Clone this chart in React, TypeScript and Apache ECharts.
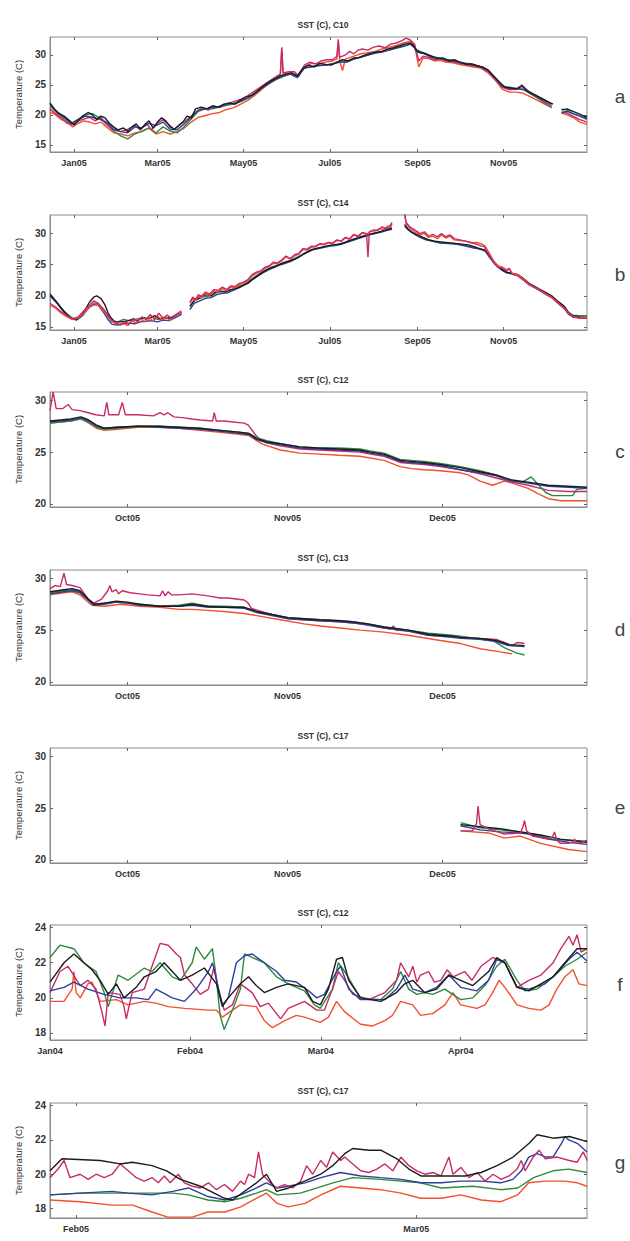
import React, { useEffect, useRef } from "react";
import * as echarts from "echarts";

const DAY = 86400000;
const MONTHS = ["Jan","Feb","Mar","Apr","May","Jun","Jul","Aug","Sep","Oct","Nov","Dec"];

// panel epochs (axis starts) and spans in days
const EPOCH_AB = Date.UTC(2004, 11, 15);
const EPOCH_CDE = Date.UTC(2005, 8, 16);
const EPOCH_F = Date.UTC(2004, 0, 1);
const EPOCH_G = Date.UTC(2005, 0, 29, 20, 40);
const SPAN_AB = 380;
const SPAN_CDE = 104;
const SPAN_F = 119;
const SPAN_G = 44.2;

const XTICKS_AB = ["2005-01-01", "2005-03-01", "2005-05-01", "2005-07-01", "2005-09-01", "2005-11-01"];
const XTICKS_CDE = ["2005-10-01", "2005-11-01", "2005-12-01"];
const XTICKS_F = ["2004-01-01", "2004-02-01", "2004-03-01", "2004-04-01"];
const XTICKS_G = ["2005-02-01", "2005-03-01"];
const YTICKS_AB = [15, 20, 25, 30];
const YTICKS_CDE = [20, 25, 30];
const YTICKS_FG = [18, 20, 22, 24];

const TITLES = ["SST (C), C10", "SST (C), C14", "SST (C), C12", "SST (C), C13", "SST (C), C17", "SST (C), C12", "SST (C), C17"];
const LETTERS = ["a", "b", "c", "d", "e", "f", "g"];

type P = [number, number | null];

// ---------- panel a (C10) : [day since 2004-12-15, degC]
const A_BLACK: P[] = [[0,22.0],[3,21.0],[6,20.3],[10,19.8],[14,19.0],[17,18.3],[20,19.0],[23,19.8],[27,20.4],[30,20.0],[33,19.2],[36,19.8],[39,19.5],[42,18.6],[45,18.0],[48,17.5],[52,17.8],[55,17.2],[58,18.0],[61,18.5],[64,17.6],[67,18.3],[70,19.0],[73,17.8],[76,18.8],[79,19.5],[82,19.0],[85,18.0],[88,17.6],[91,18.2],[94,18.8],[97,19.8],[100,19.5],[103,21.0],[107,21.3],[111,21.0],[115,21.5],[119,21.3],[123,21.8],[127,22.0],[131,21.8],[135,22.5],[139,23.0],[143,23.3],[147,24.0],[151,24.8],[155,25.5],[159,26.0],[163,26.5],[167,26.8],[171,27.0],[175,26.5],[179,27.8],[183,28.3],[187,28.0],[191,28.6],[195,28.4],[199,28.3],[203,28.8],[207,29.2],[211,29.0],[215,29.5],[219,29.6],[223,30.0],[227,30.3],[231,30.5],[235,30.6],[239,31.0],[243,31.2],[247,31.5],[251,31.8],[255,32.0],[257,31.6],[259,30.8],[262,30.4],[266,30.2],[270,29.8],[274,29.4],[278,29.5],[282,29.0],[286,29.2],[290,28.8],[294,28.5],[298,28.5],[302,28.2],[306,28.0],[310,27.5],[314,26.5],[318,25.5],[322,24.6],[326,24.5],[330,24.3],[334,24.8],[338,24.0],[342,23.5],[346,23.0],[350,22.5],[354,22.0],[356,21.8],[358,null],[362,20.8],[366,21.0],[370,20.6],[374,20.2],[378,19.8],[380,19.6]];
const A_BLUE: P[] = [[0,21.8],[5,20.5],[10,19.6],[15,18.6],[20,19.2],[25,19.8],[30,19.6],[35,19.3],[40,18.8],[45,17.6],[50,17.2],[55,17.0],[60,18.0],[65,17.8],[70,18.6],[75,18.2],[80,18.8],[85,17.6],[90,17.5],[95,18.5],[100,19.6],[105,20.8],[110,21.0],[115,21.2],[120,21.4],[125,21.8],[130,21.9],[135,22.3],[140,22.8],[145,23.6],[150,24.6],[155,25.3],[160,26.0],[165,26.5],[170,26.8],[175,26.2],[180,27.8],[185,28.0],[190,28.2],[195,28.3],[200,28.5],[205,28.8],[210,28.8],[215,29.3],[220,29.6],[225,30.0],[230,30.3],[235,30.5],[240,30.8],[245,31.2],[250,31.5],[255,31.8],[258,31.2],[260,30.5],[265,30.2],[270,29.6],[275,29.4],[280,29.2],[285,29.0],[290,28.8],[295,28.4],[300,28.4],[305,28.0],[310,27.4],[315,26.2],[320,24.8],[325,24.4],[330,24.4],[335,24.2],[340,23.6],[345,23.0],[350,22.4],[355,21.8],[358,null],[362,20.4],[366,20.6],[370,20.2],[375,19.8],[380,19.4]];
const A_GREEN: P[] = [[0,21.5],[5,20.3],[10,19.4],[15,18.5],[20,19.3],[25,20.0],[30,20.2],[35,19.5],[40,18.5],[45,17.3],[50,16.5],[55,16.0],[60,16.8],[65,17.3],[70,17.8],[75,17.0],[80,18.0],[85,17.3],[90,17.0],[95,18.0],[100,19.3],[105,20.6],[110,21.0],[115,21.0],[120,21.3],[125,21.6],[130,21.8],[135,22.2],[140,22.8],[145,23.5],[150,24.5],[155,25.2],[160,25.9],[165,26.4],[170,26.8],[175,26.4],[180,27.8],[185,28.1],[190,28.3],[195,28.3],[200,28.6],[205,28.8],[210,28.9],[215,29.3],[220,29.7],[225,30.0],[230,30.3],[235,30.6],[240,30.8],[245,31.1],[250,31.4],[255,31.8],[258,31.3],[260,30.8],[265,30.3],[270,29.8],[275,29.5],[280,29.3],[285,29.1],[290,28.8],[295,28.6],[300,28.4],[305,28.0],[310,27.4],[315,26.0],[320,24.8],[325,24.6],[330,24.4],[335,24.3],[340,23.5],[345,22.8],[350,22.0],[355,21.2],[358,null],[362,21.0],[366,20.8],[370,20.2],[375,19.8],[380,19.2]];
const A_RED: P[] = [[0,20.5],[4,20.0],[8,19.2],[12,18.8],[16,18.0],[20,18.6],[24,19.0],[28,18.8],[32,18.5],[36,18.8],[40,18.0],[45,17.0],[50,16.8],[55,16.5],[60,17.0],[65,17.2],[70,17.8],[75,16.8],[80,17.2],[85,16.8],[90,17.2],[95,17.8],[100,18.8],[105,19.6],[110,19.9],[115,20.2],[120,20.4],[125,20.9],[130,21.2],[135,21.8],[140,22.4],[145,23.3],[150,24.3],[155,25.2],[160,26.0],[163,26.6],[164,31.0],[165,26.8],[170,27.0],[175,26.6],[180,28.0],[185,28.6],[190,28.5],[195,28.8],[200,29.0],[203,29.3],[204,32.2],[205,29.0],[207,27.4],[209,29.3],[215,29.8],[220,30.2],[225,30.4],[230,30.6],[235,31.0],[240,31.3],[245,31.6],[250,32.0],[255,32.3],[258,31.5],[261,28.0],[264,29.5],[268,29.4],[272,29.0],[276,29.1],[280,28.8],[285,28.7],[290,28.4],[295,28.2],[300,28.0],[305,27.8],[310,27.0],[315,25.8],[320,24.3],[325,23.8],[330,23.8],[335,23.6],[340,23.0],[345,22.4],[350,21.8],[355,21.2],[358,null],[362,20.3],[366,20.0],[370,19.6],[375,18.8],[380,18.4]];
const A_MAGENTA: P[] = [[0,21.0],[4,20.2],[8,19.5],[12,18.6],[16,18.4],[20,19.0],[24,19.3],[28,19.6],[32,19.0],[36,19.6],[40,18.4],[45,17.5],[50,17.2],[55,17.6],[60,18.2],[64,17.5],[68,18.6],[72,17.5],[76,18.6],[80,19.2],[84,18.4],[88,17.6],[92,18.4],[96,19.0],[100,19.8],[104,20.6],[108,21.2],[112,20.8],[116,21.5],[120,21.2],[125,21.8],[130,22.2],[135,22.6],[140,23.2],[145,24.0],[150,24.8],[155,25.6],[160,26.4],[163,26.8],[164,31.3],[165,27.0],[169,27.2],[173,27.2],[176,26.4],[180,28.3],[184,28.8],[188,28.5],[192,29.0],[196,29.2],[200,29.2],[203,29.8],[204,32.6],[205,29.6],[209,30.0],[212,30.6],[215,30.2],[218,30.8],[221,31.0],[225,30.8],[229,31.3],[233,31.5],[237,31.2],[241,31.8],[245,32.0],[249,32.4],[252,32.8],[255,32.5],[258,31.8],[261,29.0],[264,29.8],[268,29.6],[272,29.2],[276,29.4],[280,29.0],[285,28.9],[290,28.6],[295,28.4],[300,28.2],[305,27.9],[310,27.2],[315,26.0],[320,24.6],[325,24.2],[330,24.3],[334,25.0],[338,24.0],[342,23.4],[346,22.8],[350,22.2],[355,21.5],[358,null],[362,20.4],[366,20.3],[370,19.8],[375,19.2],[380,18.8]];

// ---------- panel b (C14) : [day since 2004-12-15, degC]
const B_BLACK: P[] = [[0,20.3],[4,19.2],[8,18.0],[12,17.0],[16,16.3],[19,16.2],[22,16.8],[25,17.8],[28,19.0],[31,19.8],[33,20.0],[36,19.6],[39,18.5],[41,17.3],[43,16.5],[46,15.8],[50,15.8],[54,15.9],[58,16.2],[62,16.0],[66,16.5],[70,16.3],[74,16.8],[78,16.2],[82,16.5],[86,16.4],[90,17.0],[93,17.3],[96,null],[99,18.3],[102,19.2],[105,19.6],[108,20.0],[111,20.2],[114,20.0],[117,20.6],[120,20.8],[124,20.6],[128,21.0],[132,21.2],[136,21.6],[140,22.0],[144,22.8],[148,23.4],[152,24.0],[156,24.5],[160,24.8],[164,25.2],[168,25.5],[172,25.8],[176,26.2],[180,26.8],[184,27.3],[188,27.6],[192,27.8],[196,28.0],[200,28.2],[204,28.3],[208,28.5],[212,28.9],[216,29.2],[220,29.5],[224,29.7],[228,30.0],[232,30.2],[236,30.5],[240,30.8],[242,30.9],[246,null],[251,31.5],[253,30.8],[256,30.2],[260,29.8],[264,29.4],[268,29.0],[272,28.8],[280,28.6],[288,28.4],[296,28.2],[300,27.9],[304,27.6],[308,27.3],[311,26.5],[314,25.5],[317,24.8],[320,24.2],[323,23.8],[327,23.6],[331,23.4],[335,22.8],[339,22.0],[343,21.5],[347,21.0],[351,20.5],[355,20.0],[359,19.2],[364,18.3],[367,17.3],[370,16.8],[375,16.6],[380,16.5]];
const B_BLUE: P[] = [[0,20.0],[5,18.8],[10,17.3],[15,16.3],[19,16.1],[23,16.8],[27,18.0],[31,18.6],[34,18.5],[38,17.3],[41,16.2],[44,15.4],[48,15.3],[52,15.5],[56,15.6],[60,15.5],[64,15.8],[68,15.9],[72,16.0],[76,15.8],[80,16.1],[84,16.0],[88,16.4],[93,17.0],[96,null],[99,17.8],[102,18.8],[106,19.2],[110,19.6],[114,19.7],[118,20.2],[122,20.4],[126,20.5],[130,20.9],[134,21.3],[138,21.8],[142,22.4],[146,23.0],[150,23.6],[154,24.1],[158,24.5],[162,24.9],[166,25.2],[170,25.5],[174,26.0],[178,26.5],[182,27.0],[186,27.4],[190,27.6],[194,27.8],[198,28.0],[202,28.1],[206,28.3],[210,28.6],[214,28.9],[218,29.2],[222,29.5],[226,29.8],[230,30.0],[234,30.2],[238,30.5],[242,30.7],[246,null],[251,31.2],[254,30.5],[258,29.9],[262,29.4],[266,29.0],[270,28.8],[276,28.5],[282,28.4],[288,28.3],[294,28.0],[300,27.7],[304,27.5],[308,27.2],[311,26.2],[314,25.3],[317,24.6],[320,24.1],[323,23.7],[327,23.5],[331,23.3],[335,22.6],[339,21.8],[343,21.3],[347,20.8],[351,20.3],[355,19.8],[359,19.0],[364,18.0],[367,17.0],[370,16.6],[375,16.5],[380,16.4]];
const B_GREEN: P[] = [[0,20.0],[5,18.9],[10,17.5],[15,16.5],[19,16.3],[23,16.9],[27,18.0],[31,18.8],[34,18.8],[38,17.8],[41,16.8],[44,16.0],[48,15.8],[52,16.2],[56,16.0],[60,16.2],[64,16.4],[68,16.3],[72,16.6],[76,16.2],[80,16.5],[84,16.4],[88,16.8],[93,17.2],[96,null],[99,18.3],[102,19.2],[106,19.6],[110,19.9],[114,20.0],[118,20.5],[122,20.7],[126,20.8],[130,21.1],[134,21.5],[138,21.9],[142,22.6],[146,23.2],[150,23.8],[154,24.3],[158,24.7],[162,25.0],[166,25.4],[170,25.7],[174,26.1],[178,26.6],[182,27.1],[186,27.5],[190,27.7],[194,27.9],[198,28.1],[202,28.2],[206,28.4],[210,28.7],[214,29.0],[218,29.3],[222,29.6],[226,29.9],[230,30.1],[234,30.3],[238,30.6],[242,30.8],[246,null],[251,31.3],[254,30.6],[258,30.0],[262,29.5],[266,29.1],[270,28.9],[276,28.6],[282,28.5],[288,28.4],[294,28.1],[300,27.8],[304,27.6],[308,27.3],[311,26.4],[314,25.4],[317,24.7],[320,24.2],[323,23.8],[327,23.6],[331,23.4],[335,22.7],[339,21.9],[343,21.4],[347,20.9],[351,20.4],[355,19.9],[359,19.1],[364,18.2],[367,17.3],[370,16.9],[375,16.8],[380,16.8]];
const B_RED: P[] = [[0,18.5],[4,18.0],[8,17.2],[12,16.6],[16,16.2],[20,16.4],[24,17.2],[28,18.2],[31,18.8],[34,18.5],[38,17.5],[41,16.6],[44,15.8],[48,15.4],[52,15.6],[55,15.2],[58,16.0],[61,15.6],[64,16.3],[67,15.8],[70,16.6],[73,15.9],[76,16.8],[79,16.1],[82,16.6],[85,16.0],[88,16.8],[91,17.0],[93,17.4],[96,null],[99,18.8],[101,19.5],[103,19.2],[105,19.9],[107,19.7],[110,20.4],[113,20.1],[116,20.8],[119,20.6],[122,21.2],[125,20.8],[128,21.4],[131,21.3],[134,21.8],[137,22.0],[140,22.5],[143,23.2],[146,23.6],[149,23.9],[152,24.4],[155,24.7],[158,25.2],[161,25.2],[164,25.6],[167,26.3],[170,25.9],[173,26.4],[176,26.7],[179,27.4],[182,27.4],[185,27.8],[188,27.9],[191,28.3],[194,28.2],[197,28.5],[200,28.4],[203,28.9],[206,28.8],[209,29.3],[212,29.1],[215,29.8],[218,29.5],[221,30.1],[224,29.9],[227,30.4],[230,30.4],[233,30.8],[236,30.7],[239,31.2],[241,31.0],[242,31.6],[246,null],[251,33.0],[252,31.6],[255,30.8],[258,30.3],[262,29.8],[265,30.0],[268,29.4],[271,29.6],[274,29.2],[277,29.8],[280,29.3],[283,29.6],[286,29.0],[290,28.9],[294,28.8],[298,28.5],[302,28.6],[306,28.3],[308,28.0],[311,26.8],[314,25.6],[317,24.8],[320,24.6],[323,24.2],[325,24.4],[327,23.6],[331,23.4],[335,22.7],[339,21.9],[343,21.4],[347,20.9],[351,20.3],[355,19.8],[359,19.0],[364,18.0],[367,17.2],[370,16.7],[375,16.5],[380,16.5]];
const B_MAGENTA: P[] = [[0,18.8],[4,18.2],[8,17.4],[12,16.8],[16,16.3],[20,16.6],[24,17.6],[28,18.5],[31,19.2],[34,18.8],[38,17.8],[41,16.8],[44,16.0],[47,15.6],[50,15.3],[53,15.8],[56,15.4],[59,16.4],[62,15.8],[65,16.6],[68,16.2],[71,17.0],[74,16.2],[77,17.2],[80,16.4],[83,16.9],[86,16.3],[89,17.0],[93,17.6],[96,null],[99,19.0],[101,19.8],[103,19.4],[105,20.2],[107,19.9],[110,20.6],[113,20.3],[116,21.0],[119,20.9],[122,21.4],[125,21.0],[128,21.6],[131,21.5],[134,22.0],[137,22.2],[140,22.6],[143,23.4],[146,23.8],[149,24.0],[152,24.6],[155,24.8],[158,25.4],[161,25.3],[164,25.8],[167,26.4],[170,26.0],[173,26.6],[176,26.8],[179,27.6],[182,27.5],[185,28.0],[188,28.0],[191,28.4],[194,28.3],[197,28.6],[200,28.5],[203,29.0],[206,28.8],[209,29.4],[212,29.2],[215,29.9],[218,29.6],[221,30.2],[224,30.0],[225,26.2],[226,30.3],[229,30.6],[232,30.5],[235,31.1],[238,30.8],[241,31.4],[242,31.8],[246,null],[251,33.2],[252,31.8],[255,31.0],[258,30.6],[262,30.0],[265,30.3],[268,29.6],[271,29.9],[274,29.5],[277,30.0],[280,29.5],[283,29.8],[286,29.2],[290,29.0],[294,28.8],[298,28.6],[302,28.3],[305,28.0],[307,28.0],[309,27.2],[311,26.5],[314,25.3],[317,24.6],[320,24.5],[323,24.0],[325,24.4],[327,23.5],[331,23.2],[335,22.5],[339,21.8],[343,21.3],[347,20.8],[351,20.2],[355,19.7],[359,18.9],[364,17.9],[367,17.1],[370,16.6],[375,16.4],[380,16.4]];

// ---------- panel c (C12) : [day since 2005-09-16, degC]
const C_BLACK: P[] = [[0,28.0],[2,28.1],[4,28.2],[6,28.4],[7.5,28.1],[9,27.6],[10.5,27.3],[13,27.4],[17,27.5],[21,27.5],[25,27.4],[29,27.3],[33,27.1],[37,26.9],[38.5,26.8],[40,26.3],[42,26.0],[44.6,25.8],[48.4,25.5],[52,25.4],[56,25.3],[60,25.2],[62,25.0],[64.7,24.8],[67.8,24.2],[70,24.1],[72.5,24.0],[75.6,23.8],[79.5,23.5],[83.3,23.1],[86.4,22.8],[89.5,22.3],[92.6,22.1],[96.5,21.8],[100.4,21.7],[104,21.6]];
const C_BLUE: P[] = [[0,27.9],[2,28.0],[4,28.1],[6,28.3],[7.5,28.0],[9,27.5],[10.5,27.3],[13,27.4],[17,27.5],[21,27.4],[25,27.3],[29,27.2],[33,27.0],[37,26.8],[38.5,26.7],[40,26.2],[42,25.9],[44.6,25.7],[48.4,25.4],[52,25.3],[56,25.2],[60,25.1],[62,24.9],[64.7,24.7],[67.8,24.1],[70,24.0],[72.5,23.9],[75.6,23.7],[79.5,23.3],[83.3,23.0],[86.4,22.7],[89.5,22.2],[92.6,22.0],[96.5,21.7],[100.4,21.6],[104,21.5]];
const C_GREEN: P[] = [[0,27.8],[2,27.9],[4,28.0],[6,28.2],[7.5,27.9],[9,27.4],[10.5,27.2],[13,27.3],[17,27.5],[21,27.5],[25,27.4],[29,27.3],[33,27.1],[37,26.9],[38.5,26.8],[40,26.4],[42,26.1],[44.6,25.8],[48.4,25.5],[52,25.4],[56,25.4],[60,25.3],[62,25.1],[64.7,24.9],[67.8,24.3],[70,24.2],[72.5,24.1],[75.6,23.9],[79.5,23.6],[83.3,23.2],[86.4,22.8],[88,22.4],[89.5,22.2],[91.5,22.1],[93.2,22.6],[94.5,21.9],[96,21.1],[97.3,20.8],[101.2,20.8],[102,21.4],[104,21.5]];
const C_RED: P[] = [[0,27.8],[2,27.9],[4,28.0],[6,28.2],[7.5,27.8],[9,27.3],[10.5,27.1],[13,27.2],[17,27.4],[21,27.4],[25,27.3],[29,27.1],[33,26.9],[37,26.7],[38.5,26.6],[41,25.8],[44.6,25.2],[48.4,24.9],[52.3,24.8],[56,24.7],[60,24.6],[64.7,24.2],[67.8,23.6],[70,23.4],[72.5,23.3],[75.6,23.2],[79.5,23.0],[81,22.8],[83.3,22.2],[85.7,21.8],[88,22.2],[89.5,22.0],[92.6,21.5],[94.5,21.0],[96.5,20.5],[99,20.3],[104,20.3]];
const C_MAGENTA: P[] = [[0,29.0],[0.6,30.8],[1.2,29.2],[2.5,29.2],[3.5,29.6],[4.3,29.1],[5.8,29.0],[7.4,28.8],[8.9,28.6],[10.5,28.5],[11.0,29.8],[11.4,28.6],[13.3,28.6],[14.0,29.8],[14.6,28.6],[17,28.6],[20,28.5],[21.3,28.8],[22.1,28.6],[22.8,28.8],[24,28.4],[26,28.3],[27.5,28.2],[29.1,28.1],[31.5,28.0],[31.8,28.8],[32.2,28.0],[33.7,28.0],[35.5,27.9],[37.6,27.8],[38.4,27.6],[39.9,26.6],[40.7,26.2],[42,25.9],[44.6,25.6],[48.4,25.3],[52,25.2],[56,25.1],[60,25.0],[62,24.8],[64.7,24.6],[67.8,24.0],[70,23.9],[72.5,23.8],[75.6,23.6],[79.5,23.3],[83.3,22.9],[86.4,22.5],[89.5,22.1],[92.6,21.8],[96.5,21.3],[100.4,21.2],[104,21.2]];

// ---------- panel d (C13) : [day since 2005-09-16, degC]
const D_BLACK: P[] = [[0,28.7],[2.7,28.9],[4.3,29.0],[5.8,28.8],[7.4,28.0],[8.5,27.5],[10.5,27.6],[12.8,27.8],[15,27.7],[17.4,27.5],[21.3,27.3],[25,27.3],[27.5,27.5],[30.6,27.3],[33.7,27.2],[37.6,27.2],[40,26.8],[43,26.5],[46.1,26.2],[49.2,26.1],[52.3,26.0],[56.2,25.9],[58.5,25.8],[61.6,25.6],[64.7,25.3],[69.4,25.0],[73.3,24.6],[77.9,24.4],[79.5,24.3],[83.3,24.2],[86.4,24.0],[88.8,23.6],[91.9,23.5]];
const D_BLUE: P[] = [[0,28.5],[2.7,28.7],[4.3,28.8],[5.8,28.6],[7.4,27.9],[8.5,27.4],[10.5,27.5],[12.8,27.7],[15,27.6],[17.4,27.4],[21.3,27.3],[25,27.3],[27.5,27.4],[30.6,27.2],[33.7,27.2],[37.6,27.1],[40,26.7],[43,26.4],[46.1,26.1],[49.2,26.0],[52.3,25.9],[56.2,25.8],[58.5,25.7],[61.6,25.5],[64.7,25.2],[69.4,24.9],[73.3,24.5],[77.9,24.3],[79.5,24.2],[83.3,24.1],[86.4,23.9],[88.8,23.5],[91.9,23.4]];
const D_GREEN: P[] = [[0,28.6],[2.7,28.8],[4.3,28.9],[5.8,28.7],[7.4,27.9],[8.5,27.5],[10.5,27.6],[12.8,27.7],[15,27.6],[17.4,27.5],[21.3,27.3],[25,27.4],[27.5,27.6],[30.6,27.3],[33.7,27.3],[37.6,27.2],[40,26.8],[43,26.5],[46.1,26.2],[49.2,26.1],[52.3,26.0],[56.2,25.9],[58.5,25.8],[61.6,25.6],[64.7,25.3],[69.4,25.0],[73.3,24.7],[77.9,24.5],[79.5,24.4],[83.3,24.1],[85.7,24.0],[88,23.3],[90.3,22.8],[91.9,22.6]];
const D_RED: P[] = [[0,28.4],[2.7,28.6],[4.3,28.7],[5.8,28.4],[8.1,27.4],[10.5,27.3],[13.6,27.5],[17.4,27.3],[21.3,27.2],[25,27.0],[27.5,27.0],[30.6,26.9],[33.7,26.8],[37.6,26.6],[40,26.4],[44.6,26.0],[49.2,25.6],[52.3,25.4],[56.2,25.2],[60.1,25.0],[64.7,24.8],[69.4,24.5],[75.6,24.0],[79.5,23.7],[83.3,23.2],[87.2,22.9],[89.5,22.7]];
const D_MAGENTA: P[] = [[0,29.0],[1,29.3],[2,29.2],[2.7,30.5],[3.2,29.4],[4.3,29.3],[5.8,29.1],[7.4,28.0],[8.5,27.6],[10,28.0],[11.2,28.8],[11.6,29.3],[12,28.7],[12.8,28.9],[13.3,28.5],[14,28.8],[15.5,28.6],[17.4,28.5],[19,28.4],[21.3,28.3],[21.8,28.8],[22.3,28.3],[22.9,28.7],[23.5,28.4],[25,28.4],[27.5,28.5],[30.6,28.3],[32.9,28.1],[34.5,28.1],[37.6,27.9],[38.4,27.6],[39,27.1],[43,26.5],[46.1,26.1],[49.2,26.0],[52.3,25.9],[56.2,25.8],[60.1,25.6],[64.7,25.2],[66,25.1],[66.5,25.4],[67,25.0],[69.4,24.9],[73.3,24.5],[77.9,24.4],[83.3,24.2],[86.4,24.1],[88,23.8],[89.5,23.5],[90.5,23.8],[91.9,23.7]];

// ---------- panel e (C17) : [day since 2005-09-16, degC]
const E_BLACK: P[] = [[79.5,23.4],[83.3,23.2],[87.2,23.0],[91.1,22.7],[95,22.4],[98.8,22.0],[104,21.7]];
const E_BLUE: P[] = [[79.5,23.3],[83.3,22.9],[87.2,22.7],[91.1,22.6],[92.6,22.5],[96.5,22.0],[100.4,21.7],[104,21.5]];
const E_GREEN: P[] = [[79.5,23.6],[83.3,23.1],[87.2,22.9],[91.1,22.7],[93.4,22.5],[97.3,22.0],[104,21.8]];
const E_RED: P[] = [[79.5,22.8],[84.9,22.6],[88,22.1],[91.1,22.3],[95,21.6],[100.4,21.0],[104,20.8]];
const E_MAGENTA: P[] = [[79.5,22.8],[81.8,22.8],[82.6,23.5],[82.9,25.2],[83.3,23.4],[84.9,23.0],[88,22.5],[91.1,22.6],[91.6,23.2],[91.9,23.8],[92.3,22.8],[93.4,22.3],[96.5,22.0],[97.3,22.2],[97.7,22.7],[98.1,22.0],[98.8,21.6],[100.4,21.6],[101.2,21.7],[101.6,22.0],[102,21.6],[103,21.7],[104,21.9]];

// ---------- panel f (C12) : [day since 2004-01-01, degC]
const F_BLACK: P[] = [[0,20.9],[3.1,22.0],[5.3,22.5],[7.5,22.0],[9.3,21.6],[11.1,21.0],[12.9,20.2],[14.7,20.8],[16.4,20.0],[19.1,20.6],[20.9,21.2],[23.5,21.5],[25.3,22.0],[27.1,21.5],[28.9,21.0],[31.5,21.3],[34.2,21.7],[36.9,20.8],[38.2,19.5],[39.5,20.0],[42.2,20.8],[44,21.2],[45.7,20.7],[47.5,20.3],[50.2,20.6],[52.8,20.8],[56.4,20.6],[58.2,19.8],[59.9,19.6],[61.7,20.5],[63.5,22.2],[64.8,22.3],[66.2,21.0],[68.8,20.0],[73.3,19.8],[76.8,20.3],[78.6,20.8],[80.4,21.0],[83,20.3],[85.7,20.5],[88.4,21.3],[91,21.0],[93.7,20.7],[97.2,21.5],[99,22.3],[100.8,22.0],[103.5,20.6],[106.1,20.4],[108.8,20.8],[111.5,21.2],[114.1,22.0],[116.8,22.8],[119,22.8]];
const F_BLUE: P[] = [[0,20.4],[3.1,20.6],[5.3,20.9],[8.4,20.5],[12,20.2],[15.5,20.0],[19.1,20.0],[21.8,19.9],[23.5,20.5],[27.1,20.0],[29.8,19.8],[32.4,20.5],[35.1,21.5],[36,22.0],[36.9,21.0],[38.2,19.6],[39.5,20.0],[41.3,22.0],[43.1,22.4],[44.8,22.5],[47.5,22.0],[50.2,21.5],[52,21.0],[54.6,20.9],[57.3,20.4],[59.1,20.0],[60.8,20.2],[63.5,21.5],[64.4,21.8],[66.2,20.5],[68.8,19.9],[74.2,19.9],[76.8,20.5],[78.6,21.3],[80.4,20.5],[83,20.3],[85.7,20.6],[88.4,21.3],[91,20.6],[94.6,20.4],[97.2,21.0],[99,22.2],[100.8,22.0],[103.5,20.6],[106.1,20.5],[109.7,20.8],[112.3,21.4],[115,22.2],[116.8,22.6],[119,22.1]];
const F_GREEN: P[] = [[0,22.3],[2.2,23.0],[5.3,22.8],[7.5,22.0],[10.2,21.5],[12,20.3],[12.9,19.5],[15.1,21.3],[17.3,21.0],[20.9,21.7],[22.6,21.5],[24.4,22.0],[27.1,21.2],[28.9,21.0],[31.5,22.0],[32.4,22.9],[34.2,22.2],[36,22.8],[36.9,21.0],[37.7,19.0],[38.6,18.2],[40.4,19.3],[42.2,20.5],[43.1,22.5],[44.8,22.3],[47.5,22.0],[50.2,21.2],[52.8,20.8],[56.4,20.4],[58.6,19.6],[59.9,19.4],[62.6,20.5],[63.9,22.0],[65.3,21.5],[68.8,20.0],[73.3,19.9],[75.9,20.5],[77.7,21.5],[79.5,20.5],[81.3,20.2],[83,20.3],[84.8,20.2],[87.5,20.5],[91,19.9],[93.7,20.0],[96.4,20.7],[99,21.8],[100.8,22.2],[103.5,21.0],[105.2,20.4],[107.9,20.5],[110.6,21.0],[114.1,21.8],[116.8,22.2],[119,22.6]];
const F_RED: P[] = [[0,19.8],[3.1,19.8],[4.9,20.5],[5.3,21.5],[5.8,20.3],[6.7,20.0],[8.4,20.8],[9.3,20.9],[11.1,19.8],[14.7,19.9],[17.3,19.6],[20.9,19.8],[23.5,19.7],[26.2,19.5],[29.8,19.4],[35.1,19.3],[36.9,19.3],[38.2,18.9],[40.4,19.3],[42.2,19.6],[45.7,19.5],[47.5,18.7],[49.3,18.3],[52,18.7],[54.6,19.0],[56.4,18.9],[59.9,18.6],[61.7,18.9],[63.5,19.8],[65.3,19.2],[68.8,18.5],[71.5,18.4],[74.2,18.7],[75.9,19.0],[77.7,19.8],[80.4,19.6],[82.1,19.0],[84.8,19.1],[87.5,19.6],[89.3,20.3],[91,19.6],[94.6,19.4],[96.4,19.6],[98.1,20.3],[99.5,21.0],[100.8,20.6],[103.5,19.6],[106.1,19.4],[108.8,19.3],[110.6,19.6],[112.3,20.5],[114.1,21.2],[115.9,21.6],[117.2,20.8],[119,20.7]];
const F_MAGENTA: P[] = [[0,20.3],[2.2,21.5],[4,21.8],[6.7,20.7],[8.4,21.0],[10.2,20.5],[11.5,19.2],[12.2,18.4],[12.9,20.3],[15.5,20.2],[16.4,19.5],[16.9,18.8],[18.2,20.3],[20.9,20.5],[22.6,21.8],[24.4,23.1],[26.2,23.0],[28,22.5],[28.9,22.3],[29.8,21.3],[31.5,20.8],[33.3,20.2],[35.1,20.5],[36.4,21.8],[37.3,20.5],[38.6,19.3],[40.4,19.6],[42.2,20.8],[44.8,20.3],[46.6,19.5],[48.4,19.7],[51.1,18.8],[52.8,19.4],[56.4,19.8],[59.1,19.3],[60.8,19.3],[62.6,20.5],[63.9,21.5],[65.3,21.0],[67.1,20.2],[70.6,19.9],[74.2,20.3],[76.8,21.0],[77.7,22.0],[79.5,21.2],[80.4,21.8],[81.3,20.9],[82.1,21.3],[83.9,21.5],[85.2,20.9],[86.6,21.0],[88.0,21.6],[89.3,21.2],[91.9,21.5],[93.5,21.0],[95.5,21.8],[98.1,22.3],[100.8,22.0],[103.5,20.6],[106.1,21.0],[108.8,21.3],[111.5,22.0],[113.2,22.8],[115,23.5],[115.9,23.0],[116.8,23.6],[117.7,22.6],[119,22.8]];

// ---------- panel g (C17) : [day since 2005-01-29 20:40, degC]
const G_BLACK: P[] = [[0,20.2],[0.99,20.9],[4.13,20.8],[5.78,20.6],[6.77,20.7],[8.4,20.5],[9.6,20.2],[10.73,19.7],[12.38,19.3],[14.36,18.6],[15.02,18.5],[17.0,19.5],[17.82,20.0],[18.65,19.0],[19.64,19.2],[20.96,19.6],[22.28,20.0],[23.27,20.5],[24.26,21.2],[24.92,21.5],[26.24,21.4],[27.23,21.4],[28.55,20.9],[29.54,20.3],[30.53,19.9],[32.18,19.9],[34.16,19.9],[35.48,20.1],[36.8,20.5],[38.12,21.0],[39.44,21.8],[40.1,22.3],[41.42,22.1],[42.74,22.2],[44.22,21.9]];
const G_BLUE: P[] = [[0,18.8],[2.5,18.9],[5.1,19.0],[6.4,18.9],[8.4,18.8],[10.1,19.0],[11.4,19.2],[13.0,18.7],[14.4,18.5],[15.7,18.8],[17.0,19.2],[17.8,19.5],[18.7,19.2],[19.6,19.3],[21.0,19.5],[22.3,19.8],[23.9,20.1],[25.6,19.9],[27.2,19.8],[28.9,19.7],[30.5,19.5],[32.2,19.5],[33.8,19.6],[35.5,19.6],[37.1,19.5],[38.1,19.7],[38.8,20.2],[39.4,21.0],[40.1,21.2],[40.8,21.0],[41.4,21.0],[42.1,21.8],[42.4,22.2],[42.7,22.0],[43.4,21.8],[44.2,21.3]];
const G_GREEN: P[] = [[0,18.8],[2.5,18.9],[5.1,18.9],[8.4,18.9],[10.1,18.9],[11.4,18.8],[13.0,18.5],[14.4,18.4],[15.7,18.6],[17.0,18.9],[17.8,19.1],[18.7,18.8],[20.6,18.9],[23.3,19.5],[24.9,19.8],[27.2,19.7],[30.5,19.5],[32.2,19.2],[34.8,19.3],[37.1,19.1],[38.5,19.2],[39.8,19.8],[41.4,20.2],[42.7,20.3],[44.2,20.1]];
const G_RED: P[] = [[0,18.5],[2.5,18.4],[5.1,18.2],[6.8,18.2],[8.4,17.8],[9.7,17.5],[11.7,17.5],[13.0,17.8],[14.4,17.8],[15.7,18.1],[17.0,18.6],[17.8,18.9],[18.7,18.3],[19.6,18.1],[21.0,18.3],[22.3,18.8],[23.9,19.3],[25.6,19.2],[27.2,19.1],[28.9,18.9],[30.5,18.6],[32.2,18.6],[33.8,18.8],[35.5,18.5],[37.1,18.4],[38.5,18.8],[39.4,19.5],[40.8,19.6],[42.4,19.6],[43.4,19.5],[44.2,19.3]];
const G_MAGENTA: P[] = [[0,19.8],[0.66,20.3],[1.16,20.8],[1.65,19.8],[2.48,20.0],[3.14,19.7],[3.8,20.0],[4.46,19.8],[5.12,20.0],[5.78,20.6],[6.44,20.2],[7.1,19.8],[7.76,19.6],[8.42,19.8],[8.91,19.5],[9.41,19.9],[9.9,19.5],[10.56,20.0],[11.06,19.5],[11.72,19.3],[12.38,19.2],[13.04,19.5],[13.7,19.1],[14.36,19.4],[15.02,19.0],[15.68,19.6],[16.01,19.4],[16.34,20.0],[16.83,19.8],[17.16,21.3],[17.49,20.0],[17.99,19.6],[18.65,19.2],[19.31,19.4],[19.97,19.2],[20.63,19.6],[21.12,20.5],[21.62,20.0],[22.28,20.8],[22.77,20.4],[23.27,21.3],[23.93,20.8],[24.26,21.0],[24.92,20.6],[25.58,20.2],[26.24,20.1],[26.9,20.3],[27.56,20.6],[28.22,20.2],[28.88,21.0],[29.54,20.5],[30.2,20.2],[30.86,20.0],[31.52,20.1],[32.18,19.9],[32.84,21.0],[33.17,20.0],[33.83,20.4],[34.49,19.8],[35.15,20.1],[35.81,19.6],[36.47,20.0],[37.13,19.7],[37.79,19.9],[38.45,20.3],[38.78,20.8],[39.11,20.2],[39.77,21.0],[40.26,21.4],[40.76,20.9],[41.75,21.0],[42.74,20.8],[43.4,20.7],[43.89,21.3],[44.22,20.8]];

const COLORS = { black: "#1c1c1c", blue: "#2c3f9c", green: "#2f8b3c", red: "#f2502e", magenta: "#c92a6b" };

const TOPS = [37, 215, 392, 570, 748, 925, 1103];
const GRID_H = 115;
const GRID_L = 50;
const GRID_R = 43;

const FONT = "'Liberation Sans Narrow', 'Liberation Sans', Arial, sans-serif";
const AXIS_GREY = "#8a8a8a";

function App() {
  const ref = useRef<HTMLDivElement>(null);
  useEffect(() => {
    if (!ref.current) return;
    const chart = echarts.init(ref.current, null, { renderer: "svg" });

    const panels = [
      { epoch: EPOCH_AB, span: SPAN_AB, xt: XTICKS_AB, yt: YTICKS_AB, ymin: 13.8, ymax: 33, order: [["red", A_RED], ["green", A_GREEN], ["magenta", A_MAGENTA], ["blue", A_BLUE], ["black", A_BLACK]] },
      { epoch: EPOCH_AB, span: SPAN_AB, xt: XTICKS_AB, yt: YTICKS_AB, ymin: 14.5, ymax: 33, order: [["green", B_GREEN], ["blue", B_BLUE], ["black", B_BLACK], ["red", B_RED], ["magenta", B_MAGENTA]] },
      { epoch: EPOCH_CDE, span: SPAN_CDE, xt: XTICKS_CDE, yt: YTICKS_CDE, ymin: 19.7, ymax: 30.8, order: [["red", C_RED], ["magenta", C_MAGENTA], ["green", C_GREEN], ["blue", C_BLUE], ["black", C_BLACK]] },
      { epoch: EPOCH_CDE, span: SPAN_CDE, xt: XTICKS_CDE, yt: YTICKS_CDE, ymin: 19.7, ymax: 30.8, order: [["red", D_RED], ["magenta", D_MAGENTA], ["green", D_GREEN], ["blue", D_BLUE], ["black", D_BLACK]] },
      { epoch: EPOCH_CDE, span: SPAN_CDE, xt: XTICKS_CDE, yt: YTICKS_CDE, ymin: 19.7, ymax: 30.8, order: [["red", E_RED], ["green", E_GREEN], ["blue", E_BLUE], ["black", E_BLACK], ["magenta", E_MAGENTA]] },
      { epoch: EPOCH_F, span: SPAN_F, xt: XTICKS_F, yt: YTICKS_FG, ymin: 17.6, ymax: 24.15, order: [["red", F_RED], ["green", F_GREEN], ["magenta", F_MAGENTA], ["blue", F_BLUE], ["black", F_BLACK]] },
      { epoch: EPOCH_G, span: SPAN_G, xt: XTICKS_G, yt: YTICKS_FG, ymin: 17.45, ymax: 24.15, order: [["red", G_RED], ["green", G_GREEN], ["blue", G_BLUE], ["magenta", G_MAGENTA], ["black", G_BLACK]] },
    ];

    const fmt = (v: number) => {
      const d = new Date(v);
      return MONTHS[d.getUTCMonth()] + String(d.getUTCFullYear()).slice(2);
    };

    const grid: any[] = [];
    const xAxis: any[] = [];
    const yAxis: any[] = [];
    const xAxis2: any[] = [];
    const yAxis2: any[] = [];
    const series: any[] = [];
    const title: any[] = [];
    const graphic: any[] = [];
    const n = panels.length;

    panels.forEach((p, i) => {
      const top = TOPS[i];
      grid.push({ left: GRID_L, right: GRID_R, top, height: GRID_H, show: true, borderColor: AXIS_GREY, borderWidth: 1, backgroundColor: "#fff" });
      const xvals = p.xt.map((s) => Date.parse(s + "T00:00:00Z"));
      const xmin = p.epoch;
      const xmax = p.epoch + p.span * DAY;
      xAxis.push({
        type: "value", gridIndex: i, min: xmin, max: xmax,
        axisLine: { show: true, lineStyle: { color: AXIS_GREY } },
        axisTick: { show: true, inside: true, length: 3, customValues: xvals, lineStyle: { color: "#666" } },
        axisLabel: { customValues: xvals, formatter: fmt, color: "#333", fontSize: 9, fontWeight: "bold", fontFamily: FONT, margin: 6 },
        splitLine: { show: false },
      });
      xAxis2.push({
        type: "value", gridIndex: i, position: "top", min: xmin, max: xmax,
        axisLine: { show: false },
        axisTick: { show: true, inside: true, length: 3, customValues: xvals, lineStyle: { color: "#666" } },
        axisLabel: { show: false },
        splitLine: { show: false },
      });
      yAxis.push({
        type: "value", gridIndex: i, min: p.ymin, max: p.ymax,
        name: "Temperature (C)", nameLocation: "middle", nameGap: 22,
        nameTextStyle: { color: "#333", fontSize: 9.5, fontFamily: FONT },
        axisLine: { show: true, lineStyle: { color: AXIS_GREY } },
        axisTick: { show: true, inside: true, length: 3, customValues: p.yt, lineStyle: { color: "#666" } },
        axisLabel: { customValues: p.yt, color: "#333", fontSize: 10, fontWeight: "bold", fontFamily: FONT, margin: 4 },
        splitLine: { show: false },
      });
      yAxis2.push({
        type: "value", gridIndex: i, position: "right", min: p.ymin, max: p.ymax,
        axisLine: { show: false },
        axisTick: { show: true, inside: true, length: 3, customValues: p.yt, lineStyle: { color: "#666" } },
        axisLabel: { show: false },
        splitLine: { show: false },
      });
      title.push({
        text: TITLES[i], left: 318, top: top - 22, textAlign: "center",
        textStyle: { fontSize: 8.5, fontWeight: "bold", color: "#333", fontFamily: FONT },
      });
      graphic.push({
        type: "text", x: 620, y: top + GRID_H / 2 + 2,
        style: { text: LETTERS[i], fontSize: 19, fontFamily: "'Liberation Sans', Arial, sans-serif", fill: "#444", align: "center", verticalAlign: "middle" },
      });
      p.order.forEach(([c, data]: any) => {
        series.push({
          type: "line", xAxisIndex: i, yAxisIndex: i, showSymbol: false, symbol: "none",
          connectNulls: false, clip: true,
          lineStyle: { color: (COLORS as any)[c], width: 1.4 },
          itemStyle: { color: (COLORS as any)[c] },
          data: (data as P[]).map(([d, v]) => [p.epoch + d * DAY, v == null ? "-" : v]),
        });
      });
    });

    chart.setOption({
      animation: false,
      backgroundColor: "#fff",
      title, grid,
      xAxis: xAxis.concat(xAxis2),
      yAxis: yAxis.concat(yAxis2),
      series, graphic,
    });
    void n;
    return () => chart.dispose();
  }, []);

  return <div ref={ref} style={{ position: "absolute", left: 0, top: 0, width: 630, height: 1241, background: "#fff" }} />;
}

export default App;
